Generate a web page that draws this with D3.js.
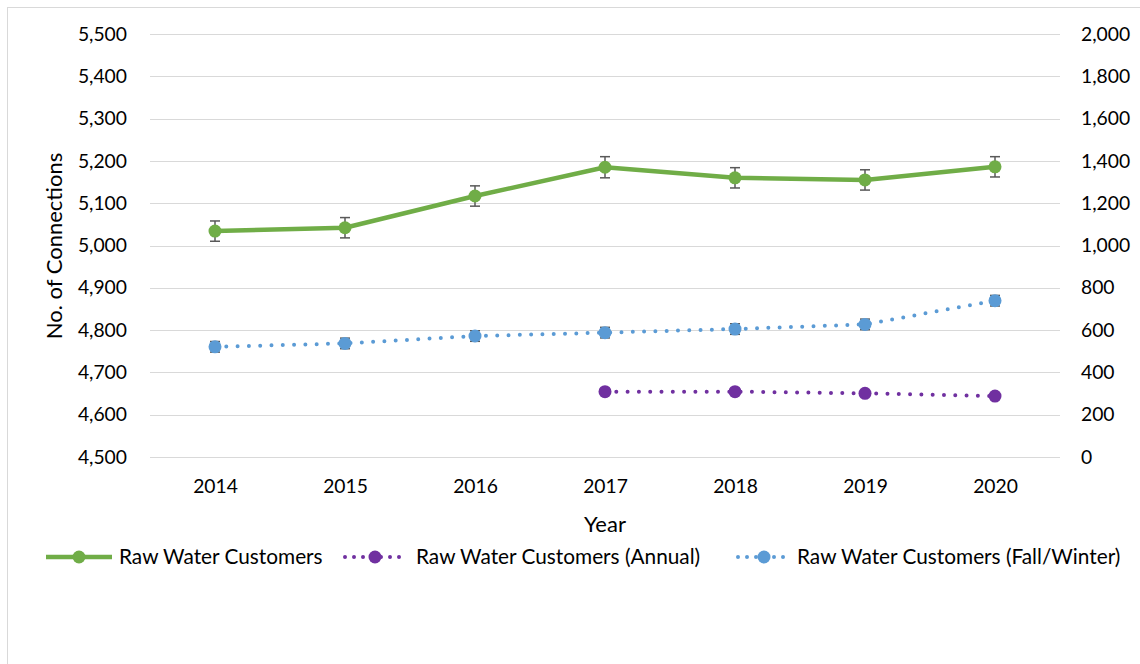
<!DOCTYPE html>
<html>
<head>
<meta charset="utf-8">
<script src="https://cdn.jsdelivr.net/npm/d3@7"></script>
<style>
  html, body { margin: 0; padding: 0; background: #fff; }
  svg text { font-family: Lato, "Open Sans", sans-serif; fill: #000; }
</style>
</head>
<body>
<svg id="chart" width="1140" height="664"></svg>
<script>
// ---- data ----
const years = ["2014", "2015", "2016", "2017", "2018", "2019", "2020"];
const rawWater = [5034, 5042, 5117, 5185, 5160, 5155, 5186];
const rawWaterErr = [24, 24, 24, 25, 24, 24, 24];
const annualYears = ["2017", "2018", "2019", "2020"];
const annual = [309, 309, 301, 288];
const fallWinter = [521, 537, 572, 588, 605, 627, 739];
const fallWinterErr = [25, 25, 25, 25, 25, 25, 25];
const leftTicks = [4500, 4600, 4700, 4800, 4900, 5000, 5100, 5200, 5300, 5400, 5500];
const rightTicks = [0, 200, 400, 600, 800, 1000, 1200, 1400, 1600, 1800, 2000];
const seriesNames = ["Raw Water Customers", "Raw Water Customers (Annual)", "Raw Water Customers (Fall/Winter)"];

// ---- layout ----
const svg = d3.select("#chart");
const plotL = 150, plotR = 1060, plotT = 34, plotB = 457;
const green = "#70AD47", purple = "#7030A0", blue = "#5B9BD5", errC = "#595959";
const fmt = d3.format(",");

const x = d3.scalePoint().domain(years).range([plotL, plotR]).padding(0.5);
const yL = d3.scaleLinear().domain([4500, 5500]).range([plotB, plotT]);
const yR = d3.scaleLinear().domain([0, 2000]).range([plotB, plotT]);

// chart border
svg.append("rect").attr("x", 7.5).attr("y", 7.5).attr("width", 1140).attr("height", 700)
  .attr("fill", "none").attr("stroke", "#d9d9d9").attr("stroke-width", 1);

// gridlines
svg.append("g").selectAll("line").data(leftTicks).join("line")
  .attr("x1", plotL).attr("x2", plotR)
  .attr("y1", d => Math.round(yL(d)) + 0.5).attr("y2", d => Math.round(yL(d)) + 0.5)
  .attr("stroke", "#d9d9d9").attr("stroke-width", 1.2);

// left axis
const leftAxis = svg.append("g").attr("transform", `translate(${plotL},0)`)
  .call(d3.axisLeft(yL).tickValues(leftTicks).tickFormat(fmt).tickSize(0).tickPadding(23));
leftAxis.select(".domain").remove();
leftAxis.selectAll("text").attr("font-size", 19.3).style("font-family", "Lato, sans-serif");

// right axis
const rightAxis = svg.append("g").attr("transform", `translate(${plotR},0)`)
  .call(d3.axisRight(yR).tickValues(rightTicks).tickFormat(fmt).tickSize(0).tickPadding(21));
rightAxis.select(".domain").remove();
rightAxis.selectAll("text").attr("font-size", 19.3).style("font-family", "Lato, sans-serif");

// bottom axis
const bottomAxis = svg.append("g").attr("transform", `translate(0,${plotB})`)
  .call(d3.axisBottom(x).tickSize(0).tickPadding(22));
bottomAxis.select(".domain").remove();
bottomAxis.selectAll("text").attr("font-size", 19.3).style("font-family", "Lato, sans-serif");

// axis titles
svg.append("text").attr("transform", "translate(62,246) rotate(-90)")
  .attr("text-anchor", "middle").attr("font-size", 22).text("No. of Connections");
svg.append("text").attr("x", 605).attr("y", 532)
  .attr("text-anchor", "middle").attr("font-size", 22).text("Year");

// ---- series ----
// Green solid with error bars
const gData = years.map((y, i) => ({ y, v: rawWater[i], e: rawWaterErr[i] }));
const errG = svg.append("g").attr("stroke", errC).attr("stroke-width", 1.5);
gData.forEach(d => {
  const cx = x(d.y);
  errG.append("line").attr("x1", cx).attr("x2", cx).attr("y1", yL(d.v + d.e)).attr("y2", yL(d.v - d.e));
  errG.append("line").attr("x1", cx - 5).attr("x2", cx + 5).attr("y1", yL(d.v + d.e)).attr("y2", yL(d.v + d.e));
  errG.append("line").attr("x1", cx - 5).attr("x2", cx + 5).attr("y1", yL(d.v - d.e)).attr("y2", yL(d.v - d.e));
});
svg.append("path").datum(gData)
  .attr("d", d3.line().x(d => x(d.y)).y(d => yL(d.v)))
  .attr("fill", "none").attr("stroke", green).attr("stroke-width", 4.5).attr("stroke-linejoin", "round");
svg.append("g").selectAll("circle").data(gData).join("circle")
  .attr("cx", d => x(d.y)).attr("cy", d => yL(d.v)).attr("r", 6.5).attr("fill", green);

// Blue dotted with error bars
const bData = years.map((y, i) => ({ y, v: fallWinter[i], e: fallWinterErr[i] }));
const errB = svg.append("g").attr("stroke", errC).attr("stroke-width", 1.5);
bData.forEach(d => {
  const cx = x(d.y);
  errB.append("line").attr("x1", cx).attr("x2", cx).attr("y1", yR(d.v + d.e)).attr("y2", yR(d.v - d.e));
  errB.append("line").attr("x1", cx - 5).attr("x2", cx + 5).attr("y1", yR(d.v + d.e)).attr("y2", yR(d.v + d.e));
  errB.append("line").attr("x1", cx - 5).attr("x2", cx + 5).attr("y1", yR(d.v - d.e)).attr("y2", yR(d.v - d.e));
});
svg.append("path").datum(bData)
  .attr("d", d3.line().x(d => x(d.y)).y(d => yR(d.v)))
  .attr("fill", "none").attr("stroke", blue).attr("stroke-width", 4)
  .attr("stroke-linecap", "round").attr("stroke-dasharray", "0 11.3");
svg.append("g").selectAll("circle").data(bData).join("circle")
  .attr("cx", d => x(d.y)).attr("cy", d => yR(d.v)).attr("r", 6.5).attr("fill", blue);

// Purple dotted
const pData = annualYears.map((y, i) => ({ y, v: annual[i] }));
svg.append("path").datum(pData)
  .attr("d", d3.line().x(d => x(d.y)).y(d => yR(d.v)))
  .attr("fill", "none").attr("stroke", purple).attr("stroke-width", 4)
  .attr("stroke-linecap", "round").attr("stroke-dasharray", "0 11.3");
svg.append("g").selectAll("circle").data(pData).join("circle")
  .attr("cx", d => x(d.y)).attr("cy", d => yR(d.v)).attr("r", 6.5).attr("fill", purple);

// ---- legend ----
const legY = 557;
const legend = svg.append("g");
const legItems = [
  { name: seriesNames[0], color: green, dotted: false, x0: 46, x1: 112, tx: 119 },
  { name: seriesNames[1], color: purple, dotted: true, x0: 345, x1: 405, tx: 416 },
  { name: seriesNames[2], color: blue, dotted: true, x0: 738, x1: 790, tx: 797 }
];
legItems.forEach(it => {
  const l = legend.append("line").attr("x1", it.x0).attr("x2", it.x1).attr("y1", legY).attr("y2", legY)
    .attr("stroke", it.color);
  if (it.dotted) {
    l.attr("stroke-width", 4).attr("stroke-linecap", "round").attr("stroke-dasharray", "0 9");
  } else {
    l.attr("stroke-width", 4.5);
  }
  legend.append("circle").attr("cx", (it.x0 + it.x1) / 2).attr("cy", legY).attr("r", 6.5).attr("fill", it.color);
  legend.append("text").attr("x", it.tx).attr("y", legY).attr("dy", "0.35em")
    .attr("font-size", 20.8).text(it.name);
});
</script>
</body>
</html>
